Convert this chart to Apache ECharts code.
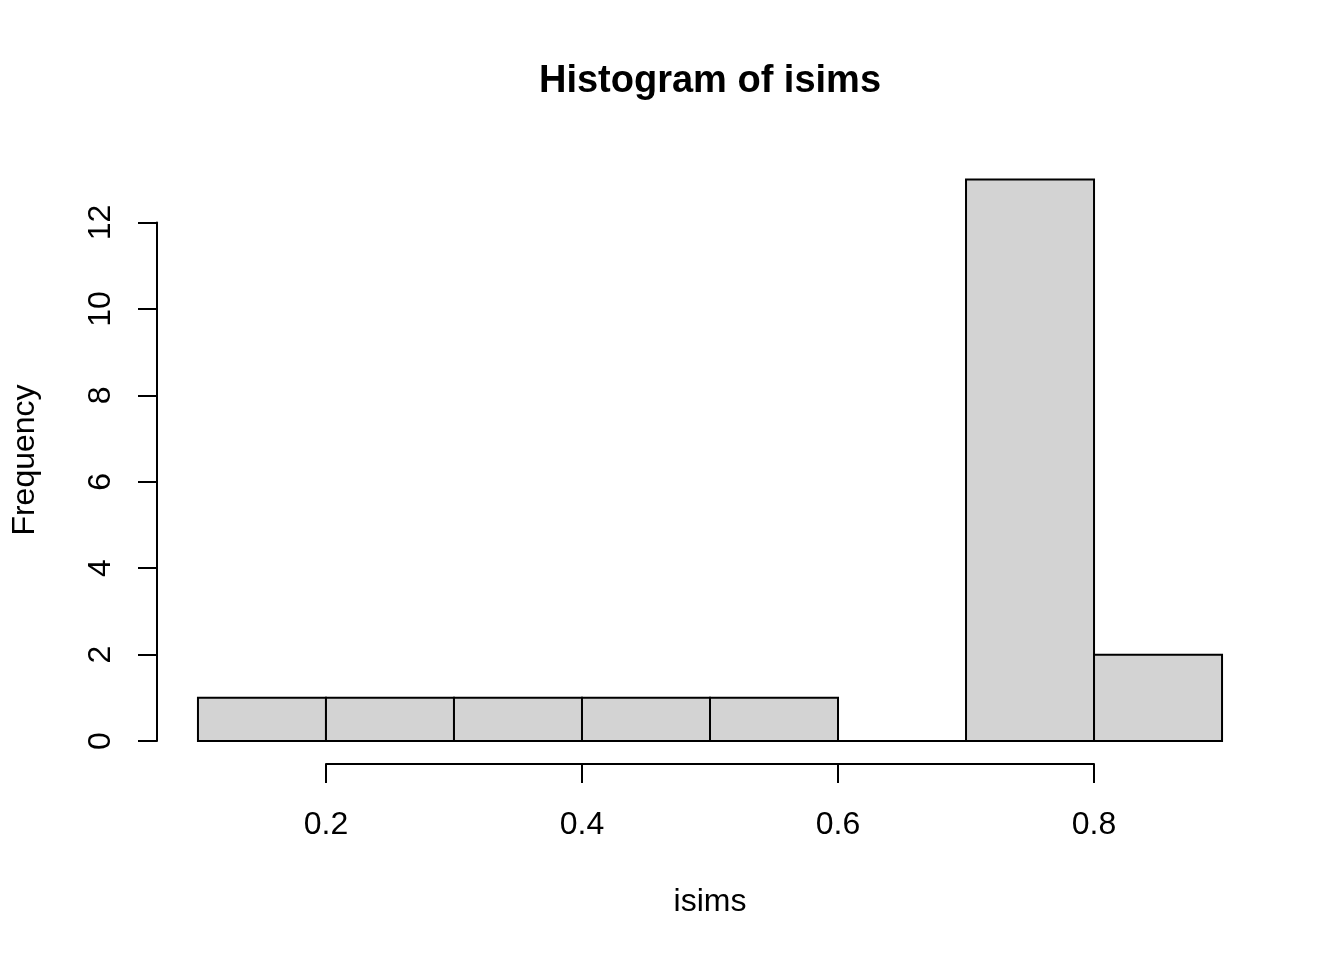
<!DOCTYPE html>
<html>
<head>
<meta charset="utf-8">
<script src="https://cdn.jsdelivr.net/npm/echarts@6/dist/echarts.min.js"></script>
<style>html,body{margin:0;padding:0;background:#fff}#c{width:1344px;height:960px}</style>
</head>
<body>
<div id="c"></div>
<script>
const breaks = [0.1, 0.2, 0.3, 0.4, 0.5, 0.6, 0.7, 0.8, 0.9];
const counts = [1, 1, 1, 1, 1, 0, 13, 2];
const xTicks = [0.2, 0.4, 0.6, 0.8];
const yTicks = [0, 2, 4, 6, 8, 10, 12];
const titleText = 'Histogram of isims';
const xLabel = 'isims';
const yLabel = 'Frequency';

const FONT = '"Liberation Sans", Arial, sans-serif';
const binData = counts.map((c, i) => [breaks[i], breaks[i + 1], c]);

const chart = echarts.init(document.getElementById('c'), null, {renderer: 'canvas'});
chart.setOption({
  animation: false,
  backgroundColor: '#ffffff',
  grid: [
    {left: 157, width: 1106, top: 157, height: 606.5},
    {left: 326, width: 768, top: 763, height: 1},
    {left: 157, width: 1, top: 222.5, height: 518.5}
  ],
  xAxis: [
    {gridIndex: 0, type: 'value', min: 0.068, max: 0.932, show: false},
    {gridIndex: 1, type: 'value', min: xTicks[0], max: xTicks[xTicks.length - 1], interval: 0.2,
     axisLine: {show: true, lineStyle: {color: '#000', width: 2}},
     axisTick: {show: true, length: 19, lineStyle: {color: '#000', width: 2}},
     axisLabel: {show: true, margin: 45, fontSize: 32, color: '#000', fontFamily: FONT,
                 formatter: v => v.toFixed(1)},
     splitLine: {show: false}},
    {gridIndex: 2, type: 'value', min: 0, max: 1, show: false}
  ],
  yAxis: [
    {gridIndex: 0, type: 'value', min: -0.52, max: 13.52, show: false},
    {gridIndex: 1, type: 'value', min: 0, max: 1, show: false},
    {gridIndex: 2, type: 'value', min: yTicks[0], max: yTicks[yTicks.length - 1], interval: 2,
     position: 'left',
     axisLine: {show: true, lineStyle: {color: '#000', width: 2}},
     axisTick: {show: true, length: 19, lineStyle: {color: '#000', width: 2}},
     axisLabel: {show: true, margin: 40, fontSize: 32, color: '#000', fontFamily: FONT, rotate: 90},
     splitLine: {show: false}}
  ],
  graphic: [
    {type: 'text', x: 710, y: 82, style: {text: titleText, font: 'bold 38px ' + FONT, fill: '#000', textAlign: 'center', textVerticalAlign: 'middle'}},
    {type: 'text', x: 710, y: 902, style: {text: xLabel, font: '32px ' + FONT, fill: '#000', textAlign: 'center', textVerticalAlign: 'middle'}},
    {type: 'text', x: 25, y: 460, rotation: Math.PI / 2, style: {text: yLabel, font: '32px ' + FONT, fill: '#000', textAlign: 'center', textVerticalAlign: 'middle'}}
  ],
  series: [{
    type: 'custom',
    xAxisIndex: 0,
    yAxisIndex: 0,
    clip: false,
    data: binData,
    renderItem: function (params, api) {
      const p0 = api.coord([api.value(0), api.value(2)]);
      const p1 = api.coord([api.value(1), 0]);
      return {
        type: 'rect',
        shape: {x: p0[0], y: p0[1], width: p1[0] - p0[0], height: p1[1] - p0[1]},
        style: {fill: '#D3D3D3', stroke: '#000', lineWidth: 2}
      };
    }
  }]
});
</script>
</body>
</html>
